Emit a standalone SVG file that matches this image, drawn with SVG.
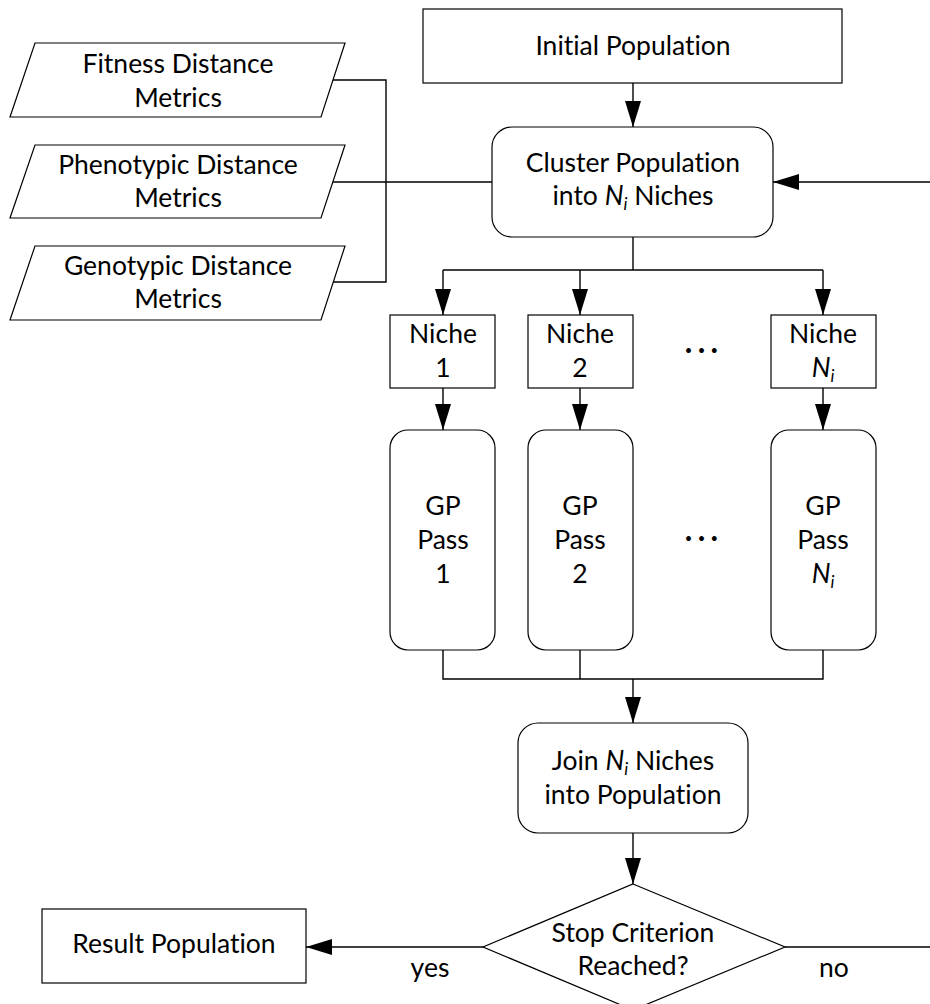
<svg xmlns="http://www.w3.org/2000/svg" width="930" height="1004" viewBox="0 0 930 1004">
<style>
.n{fill:#fff;stroke:#000;stroke-width:1.2}
.c{fill:none;stroke:#000;stroke-width:1.4}
text{font-family:"Lato","Open Sans",sans-serif;font-size:26.5px;fill:#000;text-anchor:middle;font-variant-ligatures:none}
.it{font-style:italic}
.sub{font-size:17px;font-style:italic}
.dots{font-size:13px;letter-spacing:1px}
</style>
<defs>
<marker id="ah" markerUnits="userSpaceOnUse" markerWidth="26" markerHeight="16" refX="26" refY="8" orient="auto">
<path d="M0,0 L26,8 L0,16 Z" fill="#000"/>
</marker>
</defs>
<g id="connectors">
<path class="c" d="M633,83 V127" marker-end="url(#ah)"/>
<path class="c" d="M930,182 H773" marker-end="url(#ah)"/>
<path class="c" d="M333,80 H386 V282 H333"/>
<path class="c" d="M333,182 H492"/>
<path class="c" d="M633,237 V270"/>
<path class="c" d="M443,270 H823"/>
<path class="c" d="M443,270 V315" marker-end="url(#ah)"/>
<path class="c" d="M580,270 V315" marker-end="url(#ah)"/>
<path class="c" d="M823,270 V315" marker-end="url(#ah)"/>
<path class="c" d="M443,388 V430" marker-end="url(#ah)"/>
<path class="c" d="M580,388 V430" marker-end="url(#ah)"/>
<path class="c" d="M823,388 V430" marker-end="url(#ah)"/>
<path class="c" d="M443,650 V679 H823 V650"/>
<path class="c" d="M580,650 V679"/>
<path class="c" d="M633,679 V723" marker-end="url(#ah)"/>
<path class="c" d="M633,833 V884" marker-end="url(#ah)"/>
<path class="c" d="M483,947 H306" marker-end="url(#ah)"/>
<path class="c" d="M785,947 H930"/>
<text x="430" y="977">yes</text>
<text x="834" y="977">no</text>
</g>
<g id="initial"><rect class="n" x="423" y="9" width="419" height="74"/><text x="633" y="55">Initial Population</text></g>
<g id="cluster"><rect class="n" x="492" y="127" width="281" height="110" rx="20"/><text x="633" y="172">Cluster Population</text><text x="633" y="205">into <tspan class="it">N</tspan><tspan class="sub" dy="5">i</tspan><tspan dy="-5"> Niches</tspan></text></g>
<g id="fitness"><polygon class="n" points="35,43 345,43 321,117 10,117"/><text x="178" y="73">Fitness Distance</text><text x="178" y="107">Metrics</text></g>
<g id="phenotypic"><polygon class="n" points="35,145 345,145 321,218 10,218"/><text x="178" y="174">Phenotypic Distance</text><text x="178" y="207">Metrics</text></g>
<g id="genotypic"><polygon class="n" points="35,246 345,246 321,320 10,320"/><text x="178" y="275">Genotypic Distance</text><text x="178" y="308">Metrics</text></g>
<g id="niche1"><rect class="n" x="390" y="315" width="105" height="73"/><text x="443" y="343">Niche</text><text x="443" y="377">1</text></g>
<g id="niche2"><rect class="n" x="528" y="315" width="105" height="73"/><text x="580" y="343">Niche</text><text x="580" y="377">2</text></g>
<g id="nicheN"><rect class="n" x="771" y="315" width="105" height="73"/><text x="823" y="343">Niche</text><text x="823" y="377"><tspan class="it">N</tspan><tspan class="sub" dy="5">i</tspan></text></g>
<g id="dots1"><text class="dots" x="702" y="355">• • •</text></g>
<g id="gp1"><rect class="n" x="390" y="430" width="105" height="220" rx="18"/><text x="443" y="515">GP</text><text x="443" y="549">Pass</text><text x="443" y="583">1</text></g>
<g id="gp2"><rect class="n" x="528" y="430" width="105" height="220" rx="18"/><text x="580" y="515">GP</text><text x="580" y="549">Pass</text><text x="580" y="583">2</text></g>
<g id="gpN"><rect class="n" x="771" y="430" width="105" height="220" rx="18"/><text x="823" y="515">GP</text><text x="823" y="549">Pass</text><text x="823" y="583"><tspan class="it">N</tspan><tspan class="sub" dy="5">i</tspan></text></g>
<g id="dots2"><text class="dots" x="702" y="543">• • •</text></g>
<g id="join"><rect class="n" x="518" y="723" width="230" height="110" rx="20"/><text x="633" y="770">Join <tspan class="it">N</tspan><tspan class="sub" dy="5">i</tspan><tspan dy="-5"> Niches</tspan></text><text x="633" y="804">into Population</text></g>
<g id="stop"><polygon class="n" points="633,884 785,947 633,1010 483,947"/><text x="633" y="942">Stop Criterion</text><text x="633" y="975">Reached?</text></g>
<g id="result"><rect class="n" x="42" y="909" width="264" height="74"/><text x="174" y="953">Result Population</text></g>
</svg>
